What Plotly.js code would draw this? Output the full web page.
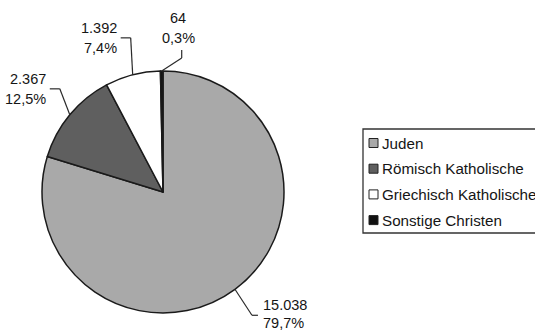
<!DOCTYPE html>
<html>
<head>
<meta charset="utf-8">
<script src="https://cdn.plot.ly/plotly-3.0.1.min.js"></script>
<style>
  html, body { margin: 0; padding: 0; background: #ffffff; }
  #chart { width: 535px; height: 332px; }
</style>
</head>
<body>
<div id="chart"></div>
<script>
// ---- data ----
const categories = ['Juden', 'Römisch Katholische', 'Griechisch Katholische', 'Sonstige Christen'];
const values = [15038, 2367, 1392, 64];
const colors = ['#a9a9a9', '#5f5f5f', '#ffffff', '#111111'];

// ---- layout config (pixels) ----
const W = 535, H = 332;
const cx = 163, cy = 192, R = 121;
// offset of the leader-line elbow from the slice's mid-angle edge point, and label style
const labelCfg = [
  { dx: 17, dy: 26, side: 'right' },
  { dx: -10, dy: -26, side: 'left' },
  { dx: -2, dy: -37, side: 'left' },
  { dx: 20, dy: -13, side: 'top' }
];
const textColor = '#151515';
const lineColor = '#2a2a2a';
const labelFont = { family: 'Liberation Sans, Arial, sans-serif', size: 14.5, color: textColor };
const legendFont = { family: 'Liberation Sans, Arial, sans-serif', size: 15.2, color: textColor };

const px = x => x / W;
const py = y => 1 - y / H;

function fmtInt(n) { return String(n).replace(/\B(?=(\d{3})+(?!\d))/g, '.'); }
const total = values.reduce((a, b) => a + b, 0);
function fmtPct(v) { return (v / total * 100).toFixed(1).replace('.', ',') + '%'; }

const trace = {
  type: 'pie',
  labels: categories,
  values: values,
  sort: false,
  direction: 'clockwise',
  rotation: 0,
  textinfo: 'none',
  hoverinfo: 'none',
  showlegend: false,
  marker: { colors: colors, line: { color: '#1a1a1a', width: 1.5 } },
  domain: {
    x: [(cx - R) / W, (cx + R) / W],
    y: [1 - (cy + R) / H, 1 - (cy - R) / H]
  }
};

const shapes = [];
const annotations = [];

function seg(x0, y0, x1, y1) {
  shapes.push({ type: 'line', xref: 'paper', yref: 'paper',
    x0: px(x0), y0: py(y0), x1: px(x1), y1: py(y1),
    line: { color: lineColor, width: 1.2 } });
}
function txt(x, y, text, xanchor, font) {
  annotations.push({ xref: 'paper', yref: 'paper', x: px(x), y: py(y), text: text,
    showarrow: false, xanchor: xanchor, yanchor: 'middle', font: font });
}

// data labels with leader lines, from data angles
let cum = 0;
values.forEach((v, i) => {
  const frac = v / total;
  const mid = (cum + frac / 2) * 2 * Math.PI;
  cum += frac;
  const ex = cx + R * Math.sin(mid);
  const ey = cy - R * Math.cos(mid);
  const c = labelCfg[i];
  const bx = ex + c.dx, by = ey + c.dy;
  seg(ex, ey, bx, by);
  const l1 = fmtInt(v), l2 = fmtPct(v);
  if (c.side === 'right') {
    seg(bx, by, bx + 6, by);
    txt(bx + 9, by - 10, l1, 'left', labelFont);
    txt(bx + 9, by + 8, l2, 'left', labelFont);
  } else if (c.side === 'left') {
    seg(bx, by, bx - 10, by);
    txt(bx - 12, by - 10, l1, 'right', labelFont);
    txt(bx - 12, by + 10, l2, 'right', labelFont);
  } else {
    seg(bx, by, bx, by - 8);
    txt(bx - 3, by - 20, l2, 'center', labelFont);
    txt(bx - 4, by - 40, l1, 'center', labelFont);
  }
});

// legend box
const lgX = 363, lgY0 = 129, lgY1 = 233;
shapes.push({ type: 'rect', xref: 'paper', yref: 'paper',
  x0: px(lgX), y0: py(lgY1), x1: px(W + 20), y1: py(lgY0),
  line: { color: '#333333', width: 1.3 }, fillcolor: 'rgba(0,0,0,0)' });
categories.forEach((name, i) => {
  const yc = 143 + 25.7 * i;
  shapes.push({ type: 'rect', xref: 'paper', yref: 'paper',
    x0: px(369), y0: py(yc + 4.5), x1: px(378), y1: py(yc - 4.5),
    line: { color: '#222222', width: 1 }, fillcolor: colors[i] });
  txt(380, yc, name, 'left', legendFont);
});

const layout = {
  width: W, height: H,
  margin: { l: 0, r: 0, t: 0, b: 0 },
  paper_bgcolor: '#ffffff',
  plot_bgcolor: '#ffffff',
  showlegend: false,
  shapes: shapes,
  annotations: annotations
};

Plotly.newPlot('chart', [trace], layout, { staticPlot: true, displayModeBar: false });
</script>
</body>
</html>
